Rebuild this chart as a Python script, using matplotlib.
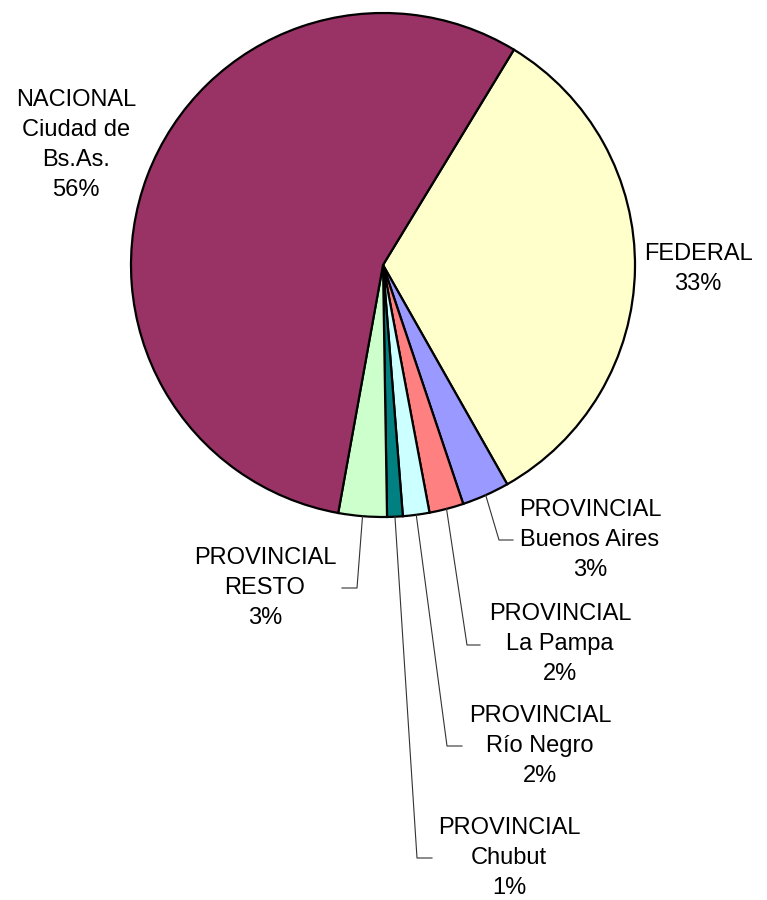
import numpy as np
import matplotlib
matplotlib.use("Agg")
import matplotlib.pyplot as plt

# ---- data ----
categories = ["FEDERAL", "PROVINCIAL\nBuenos Aires", "PROVINCIAL\nLa Pampa",
              "PROVINCIAL\nRío Negro", "PROVINCIAL\nChubut", "PROVINCIAL\nRESTO",
              "NACIONAL\nCiudad de\nBs.As."]
values = [33.1, 3.05, 2.2, 1.7, 1.0, 3.1, 55.85]
pct_labels = ["33%", "3%", "2%", "2%", "1%", "3%", "56%"]
colors = ["#FFFFCC", "#9999FF", "#FF8080", "#CCFFFF", "#008080", "#CCFFCC", "#993366"]

# ---- layout (pixel coordinates, y measured from top) ----
W, H = 767, 900
cx, cy, R = 383, 265, 252
start_angle = 58.7
label_pos = [(698, 269), (590, 540), (560, 644), (540, 746), (509, 858), (265, 588), (76, 145)]
leader = [None,
          ((499, 540), 513),
          ((467, 645), 480),
          ((447, 746), 462),
          ((417, 858), 432),
          ((357, 588), 342),
          None]

fig = plt.figure(figsize=(W / 100, H / 100), dpi=100)
ax = fig.add_axes([0, 0, 1, 1])

wedges, _ = ax.pie(values, colors=colors, startangle=start_angle, counterclock=False,
                   center=(cx, H - cy), radius=R,
                   wedgeprops=dict(edgecolor="black", linewidth=1.6))
ax.set_xlim(0, W)
ax.set_ylim(0, H)
ax.set_aspect("equal")
ax.axis("off")

font = dict(family=["Liberation Sans", "DejaVu Sans"], fontsize=17, color="black")
for i, w in enumerate(wedges):
    txt = categories[i] + "\n" + pct_labels[i]
    lx, ly = label_pos[i]
    ax.text(lx, H - ly, txt, ha="center", va="center", linespacing=1.46, **font)
    if leader[i] is not None:
        mid = np.deg2rad((w.theta1 + w.theta2) / 2)
        sx = cx + R * np.cos(mid)
        sy = (H - cy) + R * np.sin(mid)
        (ex, ey), endx = leader[i]
        ax.plot([sx, ex, endx], [sy, H - ey, H - ey], color="#333333", linewidth=0.8)

fig.savefig("out.png", dpi=100)
